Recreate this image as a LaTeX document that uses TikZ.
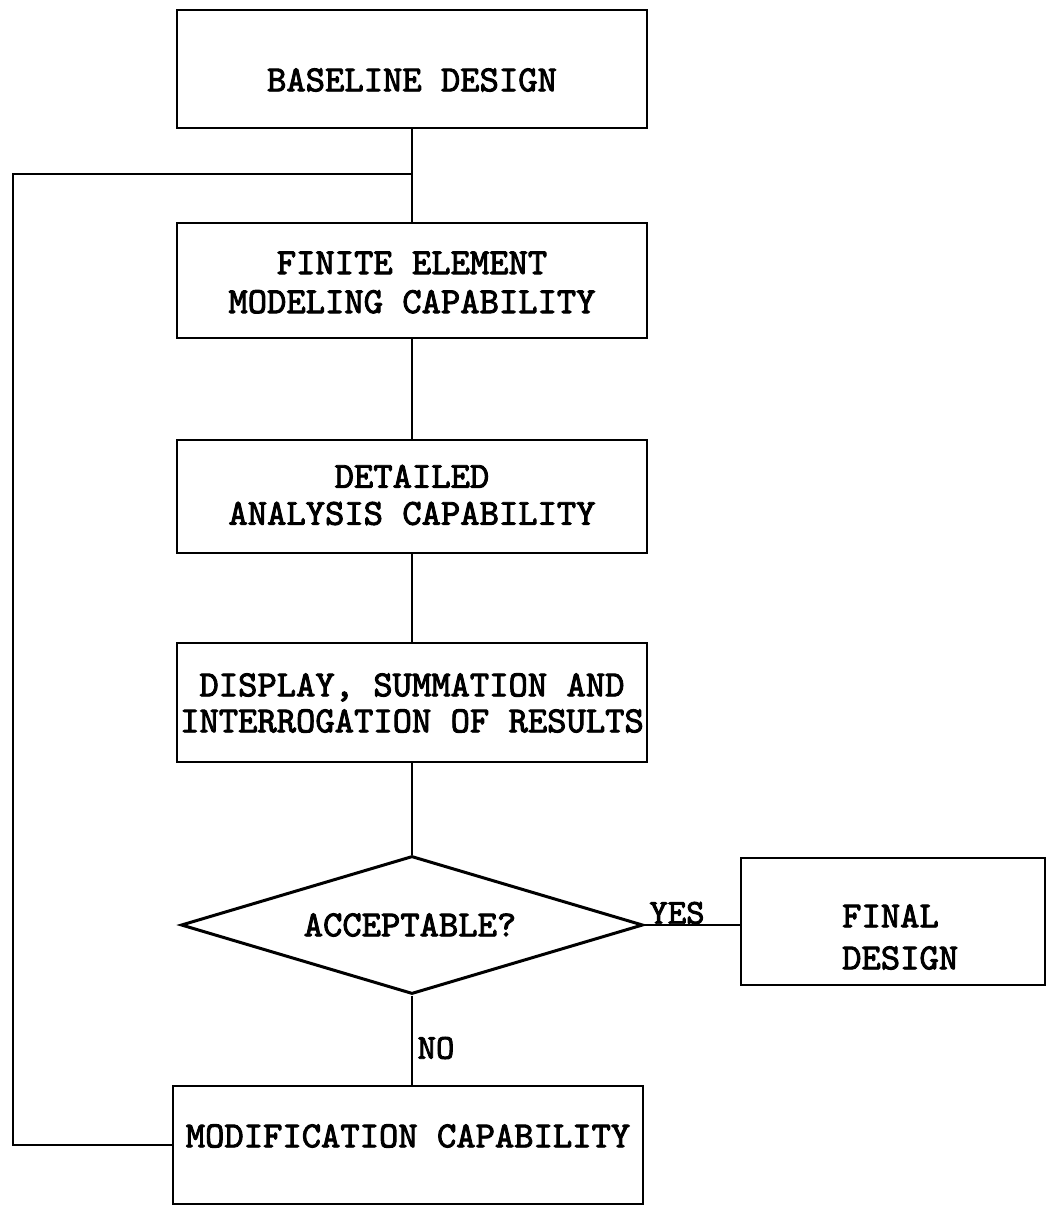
\documentclass[tikz,border=0pt]{standalone}
\usepackage{fontspec}
\newfontfamily\tw{lmmono10-regular.otf}[FakeBold=2.5]
\usetikzlibrary{shapes.geometric}
\begin{document}
\begin{tikzpicture}[x=1pt,y=-1pt,
  box/.style={draw, line width=2.6pt, inner sep=0pt, minimum width=470pt},
  txt/.style={font=\tw\fontsize{36.8}{37}\selectfont, align=center, inner sep=0pt},
  lbl/.style={font=\tw\fontsize{35}{36}\selectfont, inner sep=0pt},
  conn/.style={line width=2.6pt}]
\useasboundingbox[fill=white] (0,0) rectangle (1048,1206);

\node[box, minimum height=118pt] (base) at (412,69) {};
\node[txt] (baset) at (412,80) {BASELINE DESIGN};

\node[box, minimum height=115pt] (fem) at (412,280.5) {};
\node[txt] (femt) at (412,282.5) {FINITE ELEMENT\\[2pt]MODELING CAPABILITY};

\node[box, minimum height=113pt] (det) at (412,496.5) {};
\node[txt] (dett) at (412,495) {DETAILED\\ANALYSIS CAPABILITY};

\node[box, minimum height=119pt] (disp) at (412,702.5) {};
\node[txt] (dispt) at (412,703) {DISPLAY, SUMMATION AND\\[-1pt]INTERROGATION OF RESULTS};

\node[draw, diamond, line width=3pt, inner sep=0pt, aspect=3.3,
      minimum width=462pt, minimum height=138pt] (acc) at (412,925) {};
\node[txt] (acct) at (410,925) {ACCEPTABLE?};

\node[box, minimum width=304pt, minimum height=127pt] (final) at (893,921.5) {};
\node[txt, align=left, anchor=west] (finalt) at (842,937) {FINAL\\[5pt]DESIGN};

\node[box, minimum height=118pt] (mod) at (408,1145) {};
\node[txt] (modt) at (408,1136) {MODIFICATION CAPABILITY};

\coordinate (jn) at (412,174);
\coordinate (lp) at (13,174);

\draw[conn] (base.south) -- (fem.north);
\draw[conn] (fem.south) -- (det.north);
\draw[conn] (det.south) -- (disp.north);
\draw[conn] (disp.south) -- (acc.north);
\draw[conn] (acc.east) -- (acc.east -| final.west);
\draw[conn] (acc.south) -- (acc.south |- mod.north);
\draw[conn] (mod.west) -| (lp) -- (jn);

\node[lbl] (yes) at (677,913) {YES};
\node[lbl] (no) at (436,1048) {NO};
\end{tikzpicture}
\end{document}
